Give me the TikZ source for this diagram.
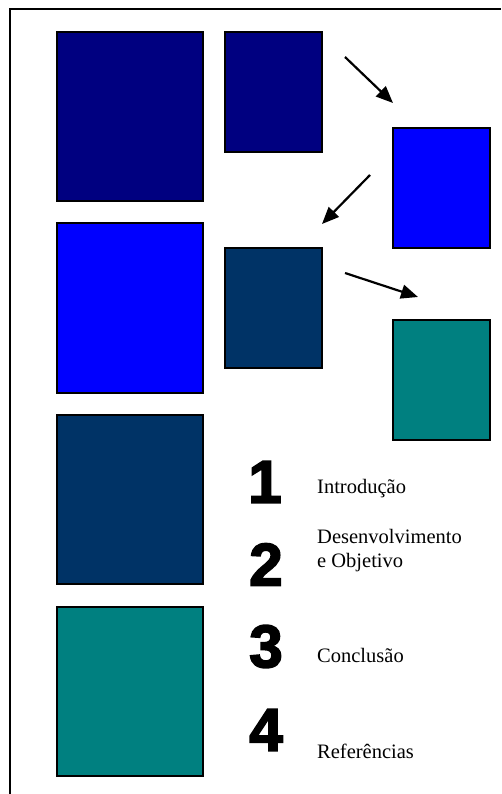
\documentclass[tikz,border=0pt]{standalone}
\usepackage{fontspec}
\setmainfont{Liberation Serif}
\newfontfamily\numfont[FakeBold=3]{Liberation Sans Bold}
\usetikzlibrary{arrows.meta}
\definecolor{cnavy}{HTML}{000080}
\definecolor{cblue}{HTML}{0000FF}
\definecolor{cdark}{HTML}{003366}
\definecolor{cteal}{HTML}{008080}
\tikzset{
  sq/.style={draw=black, line width=2pt, inner sep=0pt, outer sep=0pt, rectangle},
  bigsq/.style={sq, minimum width=146pt, minimum height=169pt},
  smallsq/.style={sq, minimum width=97pt, minimum height=120pt},
  arr/.style={line width=2.2pt, -{Triangle[length=17pt,width=14pt]}},
  num/.style={inner sep=0pt, font=\numfont\fontsize{60}{60}\selectfont},
  lbl/.style={inner sep=0pt, anchor=base west, align=left, font=\fontsize{20.5}{23.5}\selectfont}
}
\begin{document}
\begin{tikzpicture}[x=1pt, y=-1pt]
\useasboundingbox (0,0) rectangle (501,794);
\coordinate (f1) at (10,794);
\coordinate (f2) at (10,9);
\coordinate (f3) at (501,9);
\draw[line width=2pt] (f1) -- (f2) -- (f3);

\node[bigsq, fill=cnavy] (a1) at (130,116.5) {};
\node[bigsq, fill=cblue] (a2) at (130,308) {};
\node[bigsq, fill=cdark] (a3) at (130,499.5) {};
\node[bigsq, fill=cteal] (a4) at (130,691.5) {};

\node[smallsq, fill=cnavy] (b1) at (273.5,92) {};
\node[smallsq, fill=cdark] (b2) at (273.5,308) {};
\node[smallsq, fill=cblue] (c1) at (441.5,188) {};
\node[smallsq, fill=cteal] (c2) at (441.5,380) {};

\coordinate (s1) at (345,57);
\coordinate (t1) at (393,103);
\coordinate (s2) at (370,175);
\coordinate (t2) at (322,224);
\coordinate (s3) at (345,273);
\coordinate (t3) at (418,297);
\draw[arr] (s1) -- (t1);
\draw[arr] (s2) -- (t2);
\draw[arr] (s3) -- (t3);

\node[num] (n1) at (265,482) {1};
\node[num] (n2) at (266,564.5) {2};
\node[num] (n3) at (266,646.5) {3};
\node[num] (n4) at (266,730) {4};

\node[lbl] (l1) at (317,493) {Introdução};
\node[lbl] (l2) at (317,567) {Desenvolvimento\\e Objetivo};
\node[lbl] (l3) at (317,662) {Conclusão};
\node[lbl] (l4) at (317,758) {Referências};
\end{tikzpicture}
\end{document}
